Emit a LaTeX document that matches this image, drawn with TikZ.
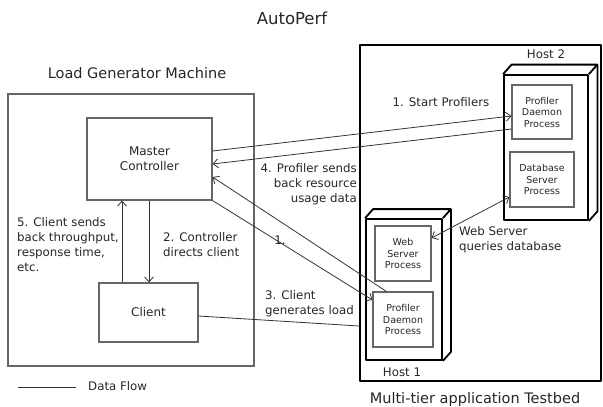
\documentclass[tikz,border=0pt]{standalone}
\usepackage{fontspec}
\setmainfont{DejaVu Sans}
\usetikzlibrary{arrows.meta,calc}
\begin{document}
\begin{tikzpicture}[x=1pt,y=-1pt,
  txt/.style={text=black!85, inner sep=0pt},
  lbl/.style={txt, font=\fontsize{11.8}{15}\selectfont},
  ttl/.style={txt, font=\fontsize{14.5}{17}\selectfont},
  gbox/.style={draw=black!60, line width=1.1pt, text=black!85, font=\fontsize{12}{15}\selectfont, align=center, inner sep=0pt},
  pbox/.style={draw=black!60, line width=1.1pt, text=black!85, font=\fontsize{9.5}{11.5}\selectfont, align=center, inner sep=0pt},
  hostbox/.style={draw=black, line width=1.8pt, line join=round, inner sep=0pt},
  hostline/.style={draw=black, line width=1.8pt, line join=round},
  flow/.style={draw=black!80, line width=0.8pt},
  barb/.style={Straight Barb[length=5pt,width=9pt]},
  arr/.style={flow, -{Straight Barb[length=5pt,width=9pt]}},
  darr/.style={flow, {Straight Barb[length=5pt,width=9pt]}-{Straight Barb[length=5pt,width=9pt]}}]
\useasboundingbox (0,0) rectangle (603,407);

% titles
\node[txt, font=\fontsize{16.5}{19}\selectfont] (title) at (292,18) {AutoPerf};
\node[ttl] (lgt) at (137,73) {Load Generator Machine};
\node[ttl] (tbt) at (475,399) {Multi-tier application Testbed};

% containers
\node[draw=black!60, line width=1.1pt, minimum width=246pt, minimum height=272pt, inner sep=0pt] (lg) at (131,230) {};
\node[hostbox, minimum width=241pt, minimum height=336pt] (tb) at (480.5,213) {};

% load generator boxes
\node[gbox, minimum width=125pt, minimum height=82pt] (mc) at (149.5,159) {Master\\Controller};
\node[gbox, minimum width=99pt, minimum height=59pt] (cl) at (148.5,312.5) {Client};

% Host 2
\node[hostbox, minimum width=84pt, minimum height=145pt] (h2) at (546,147.5) {};
\draw[hostline] (h2.north west) -- ++(8.5,-9.5) -- ($(h2.north east)+(8.5,-9.5)$) -- (h2.north east);
\draw[hostline] ($(h2.north east)+(8.5,-9.5)$) -- ($(h2.south east)+(8.5,-9.5)$) -- (h2.south east);
\node[txt, font=\fontsize{11.8}{14}\selectfont] (h2t) at (546,54) {Host 2};
\node[pbox, minimum width=60pt, minimum height=54pt] (hd2) at (542,112) {Profiler\\Daemon\\Process};
\node[pbox, minimum width=64pt, minimum height=55pt] (db) at (542,179.5) {Database\\Server\\Process};

% Host 1
\node[hostbox, minimum width=76pt, minimum height=141pt] (h1) at (404,289.5) {};
\draw[hostline] (h1.north west) -- ++(8,-9) -- ($(h1.north east)+(8,-9)$) -- (h1.north east);
\draw[hostline] ($(h1.north east)+(8,-9)$) -- ($(h1.south east)+(8,-9)$) -- (h1.south east);
\node[txt, font=\fontsize{11.8}{14}\selectfont] (h1t) at (402,372) {Host 1};
\node[pbox, minimum width=56pt, minimum height=55pt] (ws) at (403,253.5) {Web\\Server\\Process};
\node[pbox, minimum width=60pt, minimum height=55pt] (hd1) at (403,319.5) {Profiler\\Daemon\\Process};

% connectors
\draw[arr] ([yshift=8pt]mc.east) -- ([yshift=-4pt]hd2.west);
\draw[arr] ([yshift=-17pt]hd2.west) -- ([yshift=-5pt]mc.east);
\draw[arr] (mc.south east) -- ([yshift=19.5pt]hd1.west);
\draw[arr] ([xshift=14pt]hd1.north west) -- ([yshift=-18pt]mc.east);
\coordinate (cy) at (0,326);
\coordinate (ce) at (tb.west |- cy);
\draw[flow] ([yshift=-3.5pt]cl.east) -- (ce);
\draw[arr] ([xshift=-0.5pt]mc.south) -- ([xshift=0.5pt]cl.north);
\draw[arr] ([xshift=-26.5pt]cl.north) -- ([xshift=-27.5pt]mc.south);
\draw[darr] ([yshift=15.5pt]ws.east) -- ([yshift=-17.5pt]db.west);

% labels
\node[lbl] (l1) at (441,102) {1. Start Profilers};
\node[lbl, align=right, anchor=east] (l4) at (357,184) {4. Profiler sends\\back resource\\usage data};
\node[lbl] (l1b) at (280,240) {1.};
\node[lbl, align=left, anchor=west] (l2) at (163,244.5) {2. Controller\\directs client};
\node[lbl, align=left, anchor=west] (l3) at (265,303.5) {3. Client\\generates load};
\node[lbl, align=left, anchor=west] (l5) at (17,244.5) {5. Client sends\\back throughput,\\response time,\\etc.};
\node[lbl, align=left, anchor=west] (lq) at (459,239.5) {Web Server\\queries database};

% legend
\coordinate (lga) at (18,387);
\coordinate (lgb) at (76,387);
\draw[flow] (lga) -- (lgb);
\node[lbl, anchor=west] (df) at (88,386) {Data Flow};
\end{tikzpicture}
\end{document}
